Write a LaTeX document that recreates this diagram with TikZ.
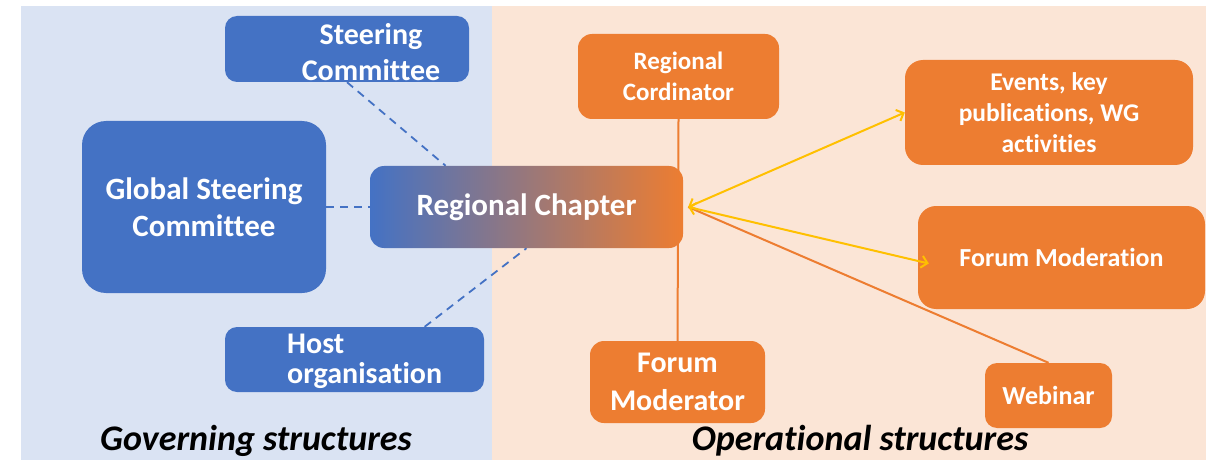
\documentclass[tikz,border=0pt]{standalone}
\usepackage{fontspec}
\setmainfont{Carlito}[Ligatures={NoCommon,NoContextual}]
\usetikzlibrary{arrows.meta}

\definecolor{govbg}{HTML}{DAE3F3}
\definecolor{opbg}{HTML}{FBE5D6}
\definecolor{govblue}{HTML}{4472C4}
\definecolor{oporange}{HTML}{ED7D31}
\definecolor{linkyellow}{HTML}{FFC000}

\pgfdeclarelayer{bg}
\pgfdeclarelayer{links}
\pgfsetlayers{bg,links,main}

\tikzset{
  govbox/.style={fill=govblue, rounded corners=12pt, inner sep=0pt, text=white, align=center},
  opbox/.style={fill=oporange, rounded corners=14pt, inner sep=0pt, text=white, align=center},
  boxtext/.style={text=white, inner sep=0pt, align=center},
  govlink/.style={draw=govblue, line width=1.8pt, dash pattern=on 8pt off 6pt},
  oplink/.style={draw=oporange, line width=2pt},
  arrowlink/.style={draw=linkyellow, line width=2pt, <->, >={Straight Barb[length=6pt,width=12pt]}},
  tag/.style={font=\bfseries\itshape\fontsize{36}{40}\selectfont, inner sep=0pt}
}

\begin{document}
\begin{tikzpicture}[x=1pt, y=-1pt]
    \useasboundingbox (0,0) rectangle (1206,465);
    % two halves
    \begin{pgfonlayer}{bg}
        \fill[govbg] (21,6) rectangle (492,460);
        \fill[opbg] (492,6) rectangle (1206,460);
    \end{pgfonlayer}

    % governing side
    \node[govbox, minimum width=244pt, minimum height=66pt] (sc) at (347,49) {};
    \node[boxtext, font=\bfseries\fontsize{30}{36}\selectfont] (sctext) at (371,52) {Steering\\Committee};
    \node[govbox, rounded corners=24pt, minimum width=244pt, minimum height=172pt,
          font=\bfseries\fontsize{31}{37}\selectfont] (gsc) at (204,207) {Global Steering\\Committee};
    \node[govbox, minimum width=259pt, minimum height=65pt] (host) at (354.5,359.5) {};
    \node[boxtext, anchor=west, align=left, font=\bfseries\fontsize{30}{30}\selectfont] (hosttext) at (287,361) {Host\\organisation};

    % centre
    \node[rounded corners=14pt, minimum width=313pt, minimum height=82pt, inner sep=0pt,
          left color=govblue, right color=oporange, text=white,
          font=\bfseries\fontsize{31}{37}\selectfont] (rc) at (526.5,207) {Regional Chapter};
    \coordinate (hub) at ([xshift=5pt]rc.east);

    % operational side
    \node[opbox, minimum width=201pt, minimum height=85pt, font=\bfseries\fontsize{25}{31}\selectfont] (cord) at (678.5,76.5) {Regional\\Cordinator};
    \node[opbox, rounded corners=18pt, minimum width=288pt, minimum height=105pt,
          font=\bfseries\fontsize{25.5}{31}\selectfont] (events) at (1049,112.5) {Events, key\\publications, WG\\activities};
    \node[opbox, rounded corners=18pt, minimum width=287pt, minimum height=103pt,
          font=\bfseries\fontsize{26}{31}\selectfont] (fmod) at (1061.5,257.5) {Forum Moderation};
    \node[opbox, minimum width=175pt, minimum height=82pt, font=\bfseries\fontsize{30}{38}\selectfont] (fmodr) at (677.5,382) {Forum\\Moderator};
    \node[opbox, rounded corners=12pt, minimum width=127pt, minimum height=65pt,
          font=\bfseries\fontsize{26}{31}\selectfont] (web) at (1048.5,395.5) {Webinar};
    \coordinate (fmtip) at ([xshift=11pt, yshift=-6pt]fmod.west);

    % links
    \begin{pgfonlayer}{links}
        \draw[govlink] (sc.south) -- (rc.153);
        \draw[govlink] (gsc.east) -- (rc.west);
        \draw[govlink] (host.25) -- (rc.south);
        \draw[oplink] (cord.south) -- (fmodr.north);
        \draw[oplink] (hub) -- (web.north);
    \end{pgfonlayer}
    \draw[arrowlink] (hub) -- (events.west);
    \draw[arrowlink] (hub) -- (fmtip);

    % captions
    \node[tag, anchor=base] (govtag) at (256,450) {Governing structures};
    \node[tag, anchor=base] (optag) at (860,450) {Operational structures};
\end{tikzpicture}
\end{document}
